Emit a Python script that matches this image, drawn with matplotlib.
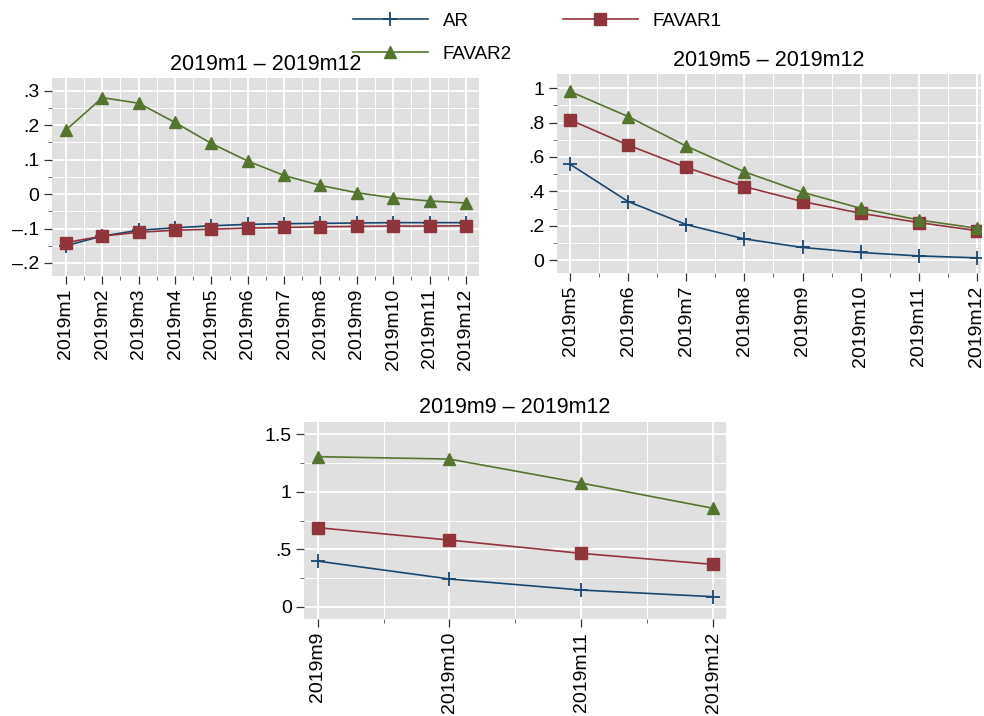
import matplotlib
matplotlib.use("Agg")
import matplotlib.pyplot as plt
from matplotlib.ticker import MultipleLocator, FuncFormatter
from matplotlib.lines import Line2D

plt.rcParams["font.family"] = ["Liberation Sans", "DejaVu Sans"]
plt.rcParams["font.size"] = 14

# ---- data ----
months_a = list(range(1, 13))
ar_a = [-0.150, -0.122, -0.105, -0.098, -0.092, -0.088, -0.086, -0.085, -0.084, -0.083, -0.083, -0.083]
favar1_a = [-0.141, -0.122, -0.111, -0.105, -0.102, -0.099, -0.097, -0.095, -0.094, -0.093, -0.093, -0.092]
favar2_a = [0.186, 0.280, 0.264, 0.208, 0.147, 0.096, 0.054, 0.025, 0.004, -0.011, -0.020, -0.026]

months_b = list(range(5, 13))
ar_b = [0.558, 0.341, 0.207, 0.124, 0.074, 0.045, 0.025, 0.014]
favar1_b = [0.816, 0.669, 0.539, 0.428, 0.341, 0.273, 0.219, 0.172]
favar2_b = [0.981, 0.835, 0.663, 0.514, 0.395, 0.302, 0.234, 0.186]

months_c = list(range(9, 13))
ar_c = [0.397, 0.241, 0.145, 0.087]
favar1_c = [0.688, 0.580, 0.464, 0.368]
favar2_c = [1.306, 1.285, 1.076, 0.856]

NAVY = "#1a476f"
MAROON = "#90353b"
GREEN = "#55752f"
BG = "#e0e0e0"


def stata_fmt(v, pos):
    if abs(v) < 1e-9:
        return "0"
    s = ("%g" % round(v, 4))
    neg = s.startswith("-")
    s = s.lstrip("-")
    if s.startswith("0."):
        s = s[1:]
    return ("\u2013" if neg else "") + s


def panel(rect, months, ar, f1, f2, title, xlim, ylim, ymaj):
    ax = fig.add_axes(rect)
    ax.set_facecolor(BG)
    for s in ax.spines.values():
        s.set_visible(False)
    ax.plot(months, ar, color=NAVY, lw=1.2, marker="+", ms=10, mew=1.3, label="AR")
    ax.plot(months, f1, color=MAROON, lw=1.2, marker="s", ms=8, label="FAVAR1")
    ax.plot(months, f2, color=GREEN, lw=1.2, marker="^", ms=9, label="FAVAR2")
    ax.set_xlim(*xlim)
    ax.set_ylim(*ylim)
    ax.set_xticks(months)
    ax.set_xticklabels(["2019m%d" % m for m in months], rotation=90)
    ax.xaxis.set_minor_locator(MultipleLocator(0.5))
    ax.yaxis.set_major_locator(MultipleLocator(ymaj))
    ax.yaxis.set_minor_locator(MultipleLocator(ymaj / 2))
    ax.yaxis.set_major_formatter(FuncFormatter(stata_fmt))
    ax.grid(which="major", color="white", lw=1.3)
    ax.grid(which="minor", color="white", lw=0.7)
    ax.set_axisbelow(True)
    ax.tick_params(which="major", length=6, width=0.9, color="#333333", pad=3,
                   labelsize=14)
    ax.tick_params(which="minor", length=3, width=0.6, color="#555555")
    ax.set_title(title, fontsize=15.5, pad=6)
    return ax


fig = plt.figure(figsize=(9.84, 7.16), dpi=100)

ax1 = panel([0.0528, 0.6145, 0.434, 0.2765], months_a, ar_a, favar1_a, favar2_a,
            "2019m1 \u2013 2019m12", (0.615, 12.36), (-0.238, 0.337), 0.1)
ax2 = panel([0.5657, 0.6183, 0.4312, 0.278], months_b, ar_b, favar1_b, favar2_b,
            "2019m5 \u2013 2019m12", (4.77, 12.07), (-0.076, 1.081), 0.2)
ax3 = panel([0.3093, 0.135, 0.4283, 0.276], months_c, ar_c, favar1_c, favar2_c,
            "2019m9 \u2013 2019m12", (8.90, 12.094), (-0.11, 1.61), 0.5)

handles = [
    Line2D([], [], color=NAVY, lw=1.2, marker="+", ms=10, mew=1.3),
    Line2D([], [], color=GREEN, lw=1.2, marker="^", ms=9),
    Line2D([], [], color=MAROON, lw=1.2, marker="s", ms=8),
]
fig.legend(handles, ["AR", "FAVAR2", "FAVAR1"], ncol=2, loc="upper center",
           bbox_to_anchor=(0.546, 1.006), frameon=False, handlelength=4.0,
           columnspacing=2.7, labelspacing=0.85, fontsize=13.5)

fig.savefig("out.png", dpi=100)
